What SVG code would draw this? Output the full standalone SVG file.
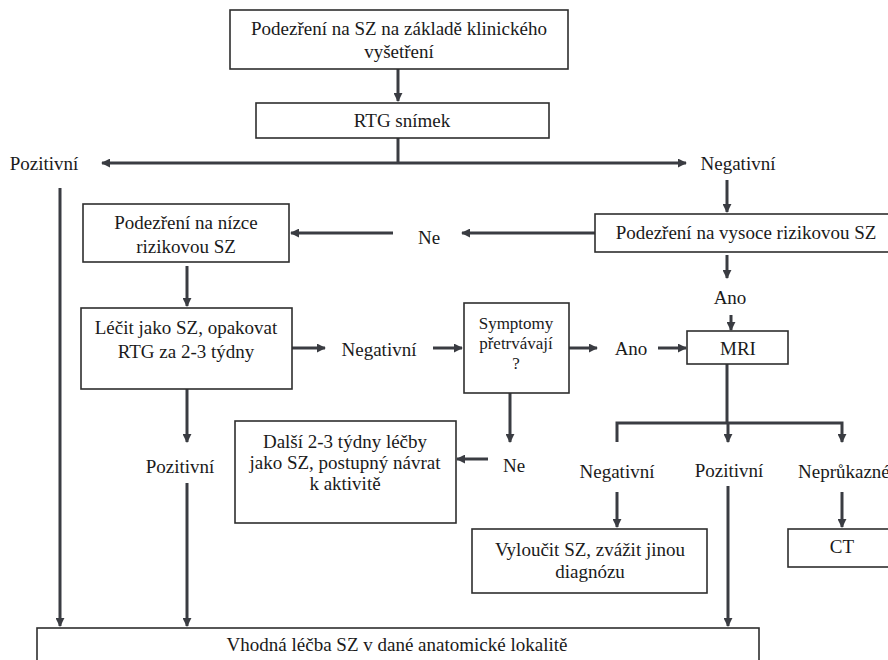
<svg xmlns="http://www.w3.org/2000/svg" width="888" height="660" viewBox="0 0 888 660">
<style>
.box{fill:#fff;stroke:#2e2e2e;stroke-width:1.6}
.c{fill:none;stroke:#3a3c42;stroke-width:3}
.t{font-family:'Liberation Serif','Times New Roman',serif;font-size:19px;fill:#1a1a1a;text-anchor:middle}
.s{font-size:17px}
.l{text-anchor:start}
</style>
<defs>
<marker id="ah" viewBox="0 0 10 10" refX="9" refY="5" markerWidth="3" markerHeight="3" orient="auto" markerUnits="strokeWidth">
<path d="M0,0 L10,5 L0,10 z" fill="#3a3c42"/>
</marker>
</defs>
<rect width="888" height="660" fill="#fff"/>
<g id="connectors">
<path class="c" d="M398,69 V101" marker-end="url(#ah)"/>
<path class="c" d="M398,138 V163"/>
<path class="c" d="M398,163 H102" marker-end="url(#ah)"/>
<path class="c" d="M398,163 H686" marker-end="url(#ah)"/>
<path class="c" d="M60,188 V626" marker-end="url(#ah)"/>
<path class="c" d="M727,180 V212" marker-end="url(#ah)"/>
<path class="c" d="M595,233 H462" marker-end="url(#ah)"/>
<path class="c" d="M393,233 H291" marker-end="url(#ah)"/>
<path class="c" d="M187,266 V306" marker-end="url(#ah)"/>
<path class="c" d="M292,348 H325" marker-end="url(#ah)"/>
<path class="c" d="M433,348 H462" marker-end="url(#ah)"/>
<path class="c" d="M569,348 H597" marker-end="url(#ah)"/>
<path class="c" d="M658,348 H686" marker-end="url(#ah)"/>
<path class="c" d="M727,255 V278" marker-end="url(#ah)"/>
<path class="c" d="M731,315 V330" marker-end="url(#ah)"/>
<path class="c" d="M727,364 V423"/>
<path class="c" d="M617,442 V423 H842 V442" marker-end="url(#ah)"/>
<path class="c" d="M728,423 V442" marker-end="url(#ah)"/>
<path class="c" d="M617,492 V527" marker-end="url(#ah)"/>
<path class="c" d="M728,486 V626" marker-end="url(#ah)"/>
<path class="c" d="M842,492 V527" marker-end="url(#ah)"/>
<path class="c" d="M187,389 V442" marker-end="url(#ah)"/>
<path class="c" d="M187,483 V626" marker-end="url(#ah)"/>
<path class="c" d="M510,393 V442" marker-end="url(#ah)"/>
<path class="c" d="M488,459 H457" marker-end="url(#ah)"/>
</g>
<g id="n1"><rect class="box" x="230" y="10" width="338" height="59"/>
<text class="t" x="399" y="35">Podezření na SZ na základě klinického</text>
<text class="t" x="399" y="58">vyšetření</text></g>
<g id="n2"><rect class="box" x="256" y="103" width="293" height="35"/>
<text class="t" x="402" y="127">RTG snímek</text></g>
<g id="l-poz1"><text class="t" x="44" y="170">Pozitivní</text></g>
<g id="l-neg1"><text class="t" x="738" y="170">Negativní</text></g>
<g id="n3"><rect class="box" x="595" y="214" width="300" height="38"/>
<text class="t" x="746" y="239">Podezření na vysoce rizikovou SZ</text></g>
<g id="l-ne1"><text class="t" x="429" y="244">Ne</text></g>
<g id="n4"><rect class="box" x="83" y="204" width="206" height="58"/>
<text class="t" x="186" y="229">Podezření na nízce</text>
<text class="t" x="186" y="253">rizikovou SZ</text></g>
<g id="n5"><rect class="box" x="81" y="308" width="211" height="81"/>
<text class="t" x="186" y="334">Léčit jako SZ, opakovat</text>
<text class="t" x="186" y="358">RTG za 2-3 týdny</text></g>
<g id="l-neg2"><text class="t" x="379" y="356">Negativní</text></g>
<g id="n6"><rect class="box" x="464" y="303" width="105" height="90"/>
<text class="t s" x="516" y="329">Symptomy</text>
<text class="t s" x="516" y="349">přetrvávají</text>
<text class="t s" x="516" y="369">?</text></g>
<g id="l-ano1"><text class="t" x="631" y="355">Ano</text></g>
<g id="l-ano2"><text class="t" x="730" y="304">Ano</text></g>
<g id="n7"><rect class="box" x="687" y="331" width="101" height="33"/>
<text class="t" x="738" y="355">MRI</text></g>
<g id="l-neg3"><text class="t" x="617" y="478">Negativní</text></g>
<g id="l-poz3"><text class="t" x="729" y="477">Pozitivní</text></g>
<g id="l-nepr"><text class="t l" x="798" y="478">Neprůkazné</text></g>
<g id="n8"><rect class="box" x="472" y="529" width="235" height="64"/>
<text class="t" x="590" y="556">Vyloučit SZ, zvážit jinou</text>
<text class="t" x="590" y="578">diagnózu</text></g>
<g id="n9"><rect class="box" x="788" y="529" width="110" height="38"/>
<text class="t" x="842" y="553">CT</text></g>
<g id="l-poz2"><text class="t" x="180" y="473">Pozitivní</text></g>
<g id="l-ne2"><text class="t" x="514" y="472">Ne</text></g>
<g id="n10"><rect class="box" x="235" y="421" width="221" height="102"/>
<text class="t" x="345" y="448">Další 2-3 týdny léčby</text>
<text class="t" x="345" y="469">jako SZ, postupný návrat</text>
<text class="t" x="345" y="490">k aktivitě</text></g>
<g id="n11"><rect class="box" x="37" y="628" width="722" height="40"/>
<text class="t" x="397" y="651">Vhodná léčba SZ v dané anatomické lokalitě</text></g>
</svg>
